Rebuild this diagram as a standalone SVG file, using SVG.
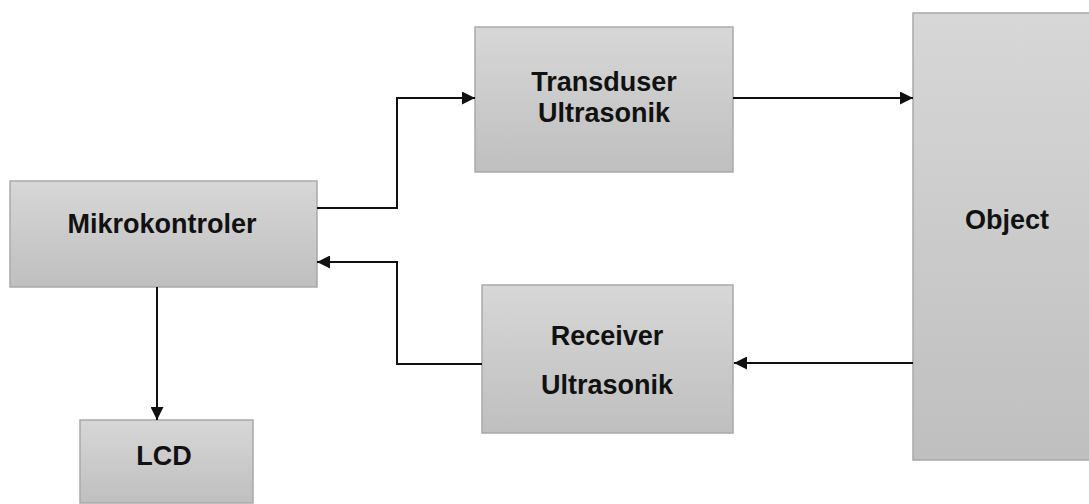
<svg xmlns="http://www.w3.org/2000/svg" width="1089" height="504" viewBox="0 0 1089 504">
<style>
.box{fill:url(#g);stroke:#a9a9a9;stroke-width:1.5}
.t{font-family:"Liberation Sans",Arial,sans-serif;font-weight:bold;font-size:27px;fill:#111;text-anchor:middle}
.c{fill:none;stroke:#111;stroke-width:2}
</style>
<defs>
<linearGradient id="g" x1="0" y1="0" x2="0" y2="1">
<stop offset="0" stop-color="#d7d7d7"/>
<stop offset="1" stop-color="#bfbfbf"/>
</linearGradient>
<marker id="a" viewBox="0 0 10 10" refX="10" refY="5" markerWidth="14" markerHeight="13" markerUnits="userSpaceOnUse" orient="auto">
<path d="M0,0 L10,5 L0,10 z" fill="#111"/>
</marker>
</defs>
<rect width="1089" height="504" fill="#fff"/>
<g id="mikrokontroler">
<rect class="box" x="10" y="181" width="307" height="106"/>
<text class="t" x="162" y="233">Mikrokontroler</text>
</g>
<g id="transduser">
<rect class="box" x="475" y="27" width="258" height="145"/>
<text class="t" x="604" y="91">Transduser</text>
<text class="t" x="604" y="122">Ultrasonik</text>
</g>
<g id="receiver">
<rect class="box" x="482" y="285" width="251" height="148"/>
<text class="t" x="607" y="345">Receiver</text>
<text class="t" x="607" y="394">Ultrasonik</text>
</g>
<g id="object">
<rect class="box" x="913" y="13" width="180" height="447"/>
<text class="t" x="1007" y="229">Object</text>
</g>
<g id="lcd">
<rect class="box" x="80" y="420" width="173" height="83"/>
<text class="t" x="164" y="465">LCD</text>
</g>
<g id="connectors">
<path class="c" d="M317,208 H397 V98 H475" marker-end="url(#a)"/>
<path class="c" d="M733,98 H913" marker-end="url(#a)"/>
<path class="c" d="M913,363 H734" marker-end="url(#a)"/>
<path class="c" d="M482,364 H397 V262 H317" marker-end="url(#a)"/>
<path class="c" d="M157,287 V420" marker-end="url(#a)"/>
</g>
</svg>
